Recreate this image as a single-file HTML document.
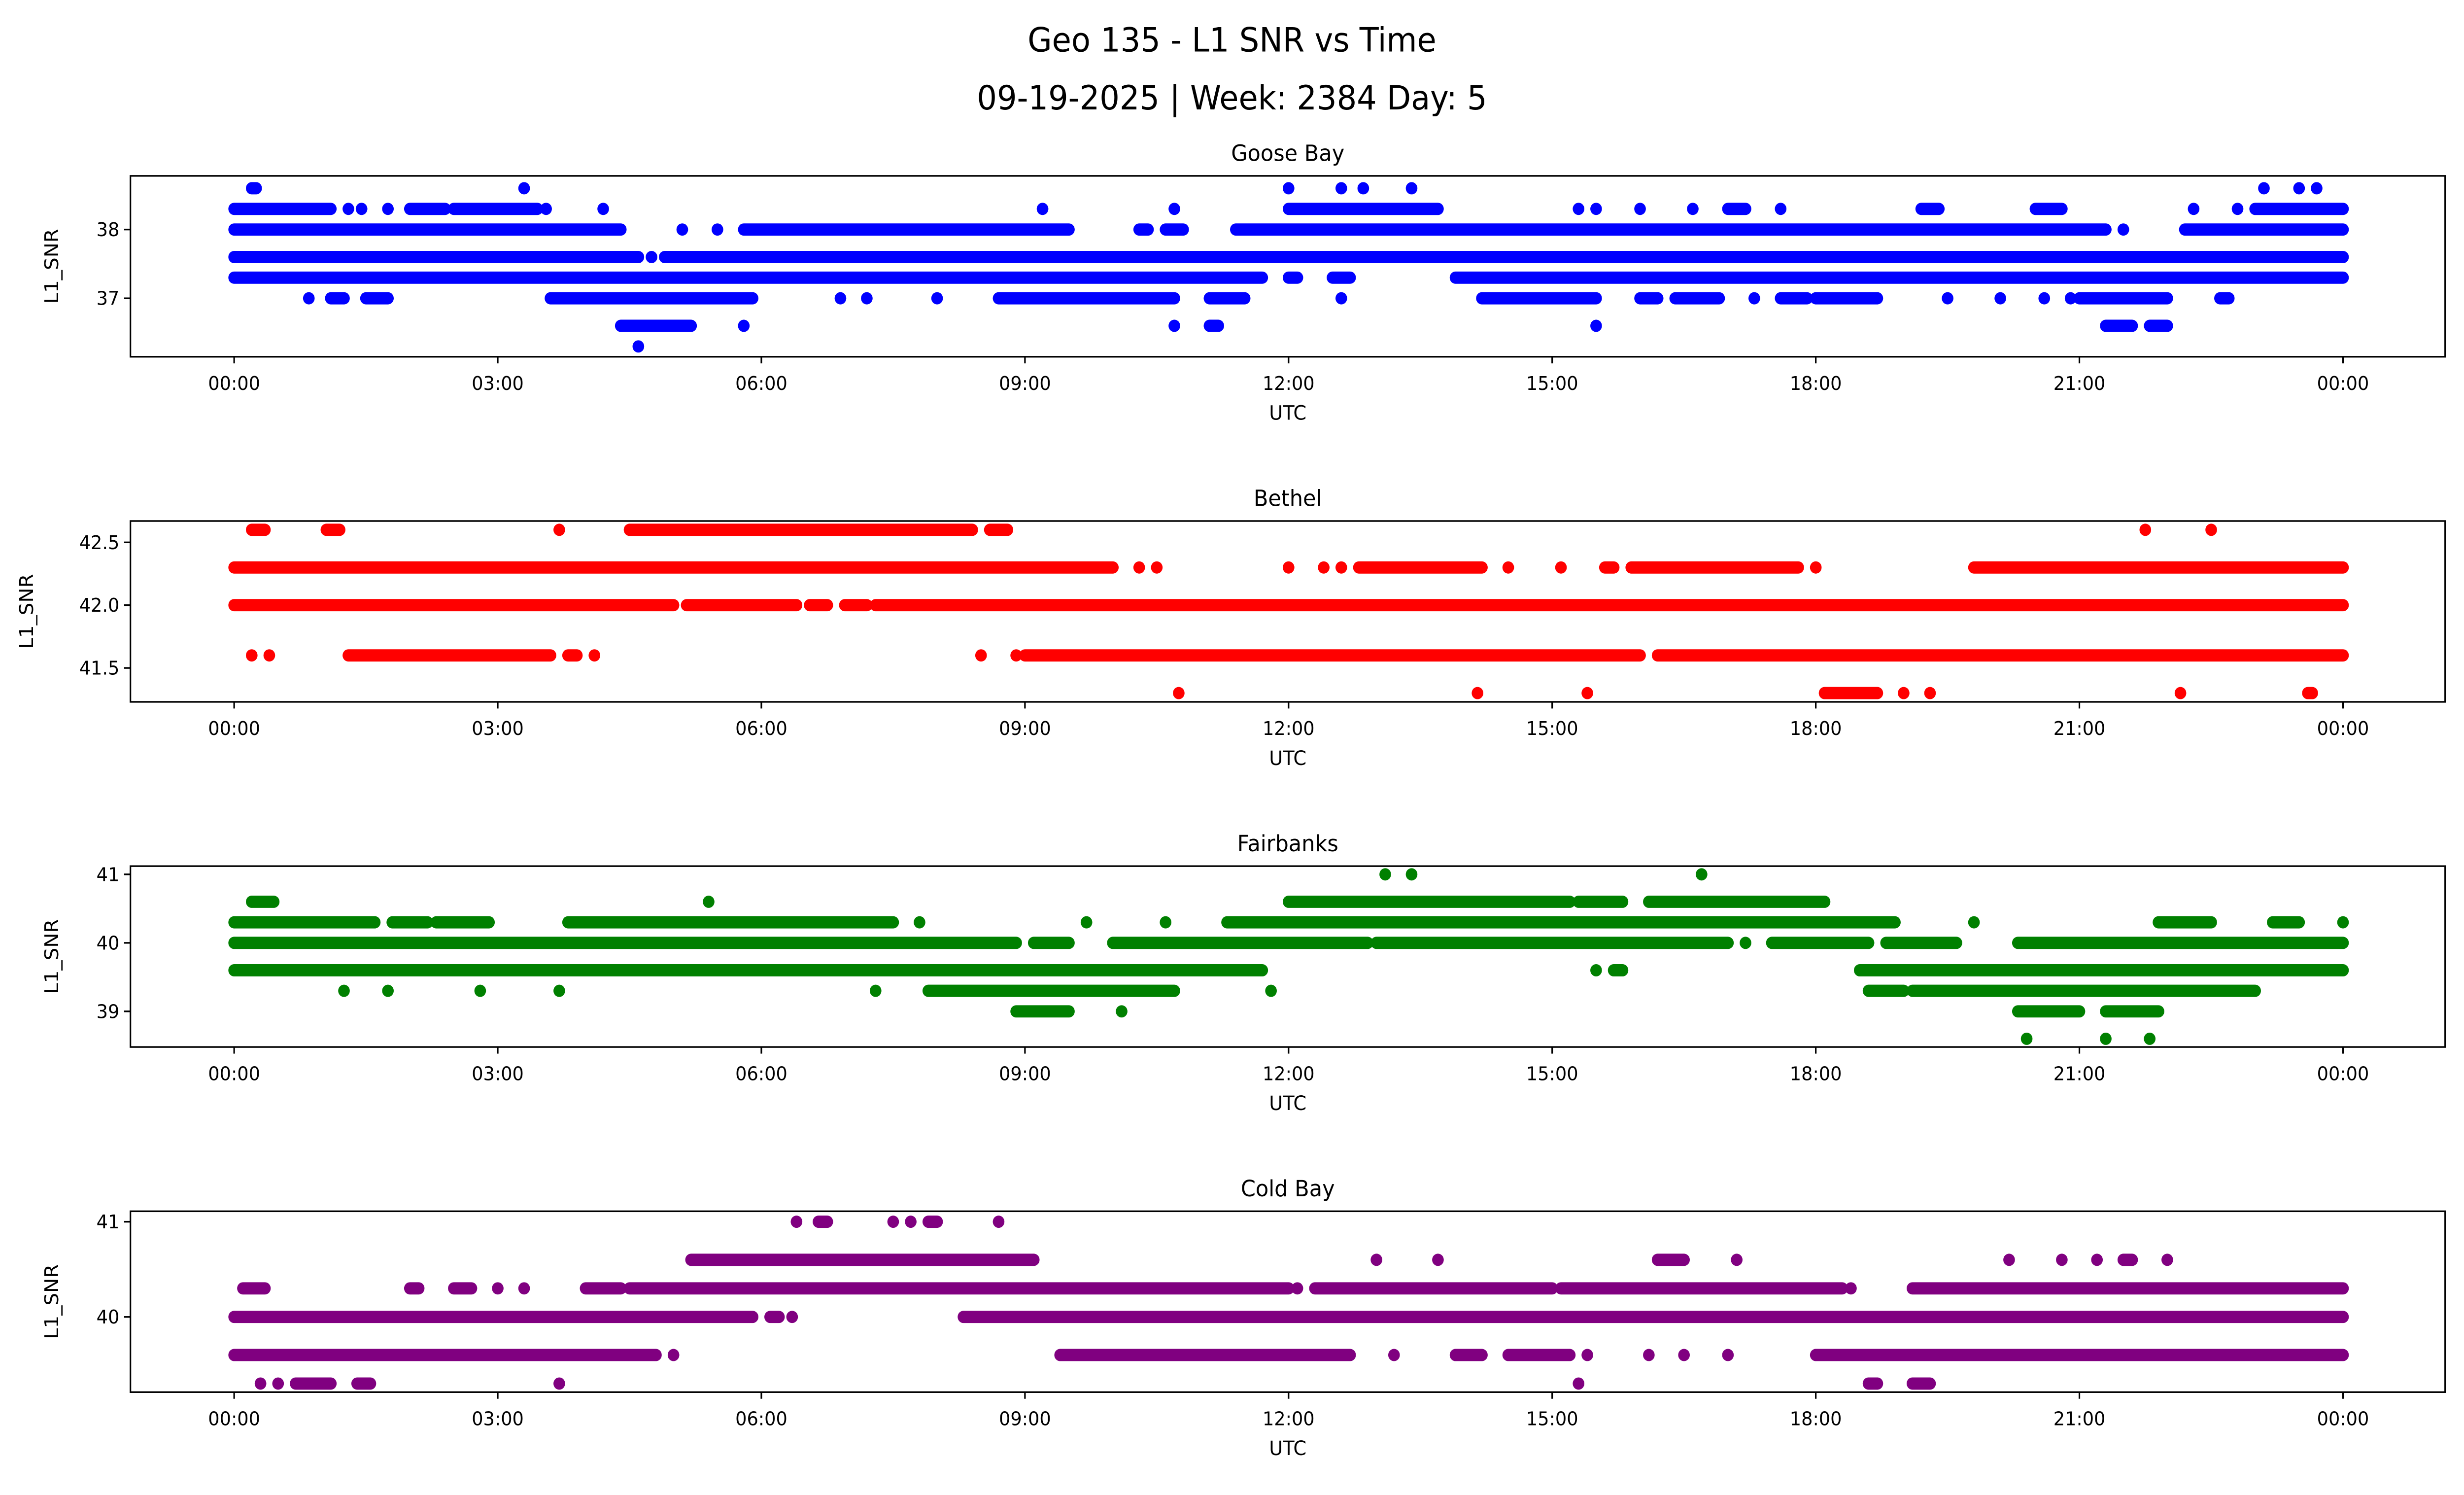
<!DOCTYPE html>
<html><head><meta charset="utf-8"><style>
html,body{margin:0;padding:0;background:#fff;overflow:hidden;width:100%;height:100%}
svg{display:block;position:fixed;left:0;top:0;width:100vw;height:100vh}
text{font-family:"DejaVu Sans","Liberation Sans",sans-serif;fill:#000}
</style></head><body>
<svg id="chart" width="5278" height="3033" viewBox="0 0 1568 901" preserveAspectRatio="none" xmlns="http://www.w3.org/2000/svg">
<text x="784" y="31" font-size="20" text-anchor="middle">Geo 135 - L1 SNR vs Time</text>
<text x="784" y="66" font-size="20" text-anchor="middle">09-19-2025 | Week: 2384 Day: 5</text>
</svg>
<script>
// Run data: [startHour, endHour] for each SNR level (single points have start==end)
const gooseLevels = [38.6, 38.3, 38.0, 37.6, 37.3, 37.0, 36.6, 36.3];
const gooseRuns = [
 [[0.2,0.25],[3.3,3.3],[12.0,12.0],[12.6,12.6],[12.85,12.85],[13.4,13.4],[23.1,23.1],[23.5,23.5],[23.7,23.7]],
 [[0,1.1],[1.3,1.3],[1.45,1.45],[1.75,1.75],[2.0,2.4],[2.5,3.45],[3.55,3.55],[4.2,4.2],[9.2,9.2],[10.7,10.7],[12.0,13.7],[15.3,15.3],[15.5,15.5],[16.0,16.0],[16.6,16.6],[17.0,17.2],[17.6,17.6],[19.2,19.4],[20.5,20.8],[22.3,22.3],[22.8,22.8],[23.0,24]],
 [[0,4.4],[5.1,5.1],[5.5,5.5],[5.8,9.5],[10.3,10.4],[10.6,10.8],[11.4,21.3],[21.5,21.5],[22.2,24]],
 [[0,4.6],[4.75,4.75],[4.9,24]],
 [[0,11.7],[12.0,12.1],[12.5,12.7],[13.9,24]],
 [[0.85,0.85],[1.1,1.25],[1.5,1.75],[3.6,5.9],[6.9,6.9],[7.2,7.2],[8.0,8.0],[8.7,10.7],[11.1,11.5],[12.6,12.6],[14.2,15.5],[16.0,16.2],[16.4,16.9],[17.3,17.3],[17.6,17.9],[18.0,18.7],[19.5,19.5],[20.1,20.1],[20.6,20.6],[20.9,20.9],[21.0,22.0],[22.6,22.7]],
 [[4.4,5.2],[5.8,5.8],[10.7,10.7],[11.1,11.2],[15.5,15.5],[21.3,21.6],[21.8,22.0]],
 [[4.6,4.6]]
];
const bethelLevels = [42.6, 42.3, 42.0, 41.6, 41.3];
const bethelRuns = [
 [[0.2,0.35],[1.05,1.2],[3.7,3.7],[4.5,8.4],[8.6,8.8],[21.75,21.75],[22.5,22.5]],
 [[0,10.0],[10.3,10.3],[10.5,10.5],[12.0,12.0],[12.4,12.4],[12.6,12.6],[12.8,14.2],[14.5,14.5],[15.1,15.1],[15.6,15.7],[15.9,17.8],[18.0,18.0],[19.8,24]],
 [[0,5.0],[5.15,6.4],[6.55,6.75],[6.95,7.2],[7.3,24]],
 [[0.2,0.2],[0.4,0.4],[1.3,3.6],[3.8,3.9],[4.1,4.1],[8.5,8.5],[8.9,8.9],[9.0,16.0],[16.2,24]],
 [[10.75,10.75],[14.15,14.15],[15.4,15.4],[18.1,18.7],[19.0,19.0],[19.3,19.3],[22.15,22.15],[23.6,23.65]]
];
const fairLevels = [41.0, 40.6, 40.3, 40.0, 39.6, 39.3, 39.0, 38.6];
const fairRuns = [
 [[13.1,13.1],[13.4,13.4],[16.7,16.7]],
 [[0.2,0.45],[5.4,5.4],[12.0,15.2],[15.3,15.8],[16.1,18.1]],
 [[0,1.6],[1.8,2.2],[2.3,2.9],[3.8,7.5],[7.8,7.8],[9.7,9.7],[10.6,10.6],[11.3,18.9],[19.8,19.8],[21.9,22.5],[23.2,23.5],[24,24]],
 [[0,8.9],[9.1,9.5],[10.0,12.9],[13.0,17.0],[17.2,17.2],[17.5,18.6],[18.8,19.6],[20.3,24]],
 [[0,11.7],[15.5,15.5],[15.7,15.8],[18.5,24]],
 [[1.25,1.25],[1.75,1.75],[2.8,2.8],[3.7,3.7],[7.3,7.3],[7.9,10.7],[11.8,11.8],[18.6,19.0],[19.1,23.0]],
 [[8.9,9.5],[10.1,10.1],[20.3,21.0],[21.3,21.9]],
 [[20.4,20.4],[21.3,21.3],[21.8,21.8]]
];
const coldLevels = [41.0, 40.6, 40.3, 40.0, 39.6, 39.3];
const coldRuns = [
 [[6.4,6.4],[6.65,6.75],[7.5,7.5],[7.7,7.7],[7.9,8.0],[8.7,8.7]],
 [[5.2,9.1],[13.0,13.0],[13.7,13.7],[16.2,16.5],[17.1,17.1],[20.2,20.2],[20.8,20.8],[21.2,21.2],[21.5,21.6],[22.0,22.0]],
 [[0.1,0.35],[2.0,2.1],[2.5,2.7],[3.0,3.0],[3.3,3.3],[4.0,4.4],[4.5,12.0],[12.1,12.1],[12.3,15.0],[15.1,18.3],[18.4,18.4],[19.1,24]],
 [[0,5.9],[6.1,6.2],[6.35,6.35],[8.3,24]],
 [[0,4.8],[5.0,5.0],[9.4,12.7],[13.2,13.2],[13.9,14.2],[14.5,15.2],[15.4,15.4],[16.1,16.1],[16.5,16.5],[17.0,17.0],[18.0,24]],
 [[0.3,0.3],[0.5,0.5],[0.7,1.1],[1.4,1.55],[3.7,3.7],[15.3,15.3],[18.6,18.7],[19.1,19.3]]
];
const xTickHours = [0, 3, 6, 9, 12, 15, 18, 21, 24];
const xTickLabels = ["00:00","03:00","06:00","09:00","12:00","15:00","18:00","21:00","00:00"];

const NS = "http://www.w3.org/2000/svg";
const svg = document.getElementById("chart");
function el(tag, attrs, parent){
  const e = document.createElementNS(NS, tag);
  for (const k in attrs) e.setAttribute(k, attrs[k]);
  (parent||svg).appendChild(e);
  return e;
}
const panels = [
  {name:"goose-bay", title:"Goose Bay", color:"#0000ff", top:106, yMin:36.15, yMax:38.78, ticks:[37,38], tickLabels:["37","38"], levels:gooseLevels, runs:gooseRuns, ylx:37},
  {name:"bethel", title:"Bethel", color:"#ff0000", top:314, yMin:41.23, yMax:42.67, ticks:[41.5,42.0,42.5], tickLabels:["41.5","42.0","42.5"], levels:bethelLevels, runs:bethelRuns, ylx:21},
  {name:"fairbanks", title:"Fairbanks", color:"#008000", top:522, yMin:38.48, yMax:41.12, ticks:[39,40,41], tickLabels:["39","40","41"], levels:fairLevels, runs:fairRuns, ylx:37},
  {name:"cold-bay", title:"Cold Bay", color:"#800080", top:730, yMin:39.21, yMax:41.11, ticks:[40,41], tickLabels:["40","41"], levels:coldLevels, runs:coldRuns, ylx:37}
];
const L = 83, R = 1556, H = 109;
const xOf = h => 149 + h * (1342/24);
panels.forEach(p => {
  const g = el("g", {});
  
  
  const yOf = v => p.top + H - (v - p.yMin) / (p.yMax - p.yMin) * H;
  const t = el("text", {x:(L+R)/2, y:p.top-9, "font-size":13.5, "text-anchor":"middle"}, g);
  t.textContent = p.title;
  
  
  const sg = el("g", {}, g);
  
  
  p.levels.forEach((lv, i) => {
    p.runs[i].forEach(r => {
      const ln = el("line", {x1:xOf(r[0]), x2:xOf(r[1])+0.01, y1:yOf(lv), y2:yOf(lv), stroke:p.color, "stroke-width":7.4, "stroke-linecap":"round"}, sg);
      
      
    });
  });
  const fr = el("rect", {x:L, y:p.top, width:R-L, height:H, fill:"none", stroke:"#000", "stroke-width":1}, g);
  
  
  p.ticks.forEach((tv, i) => {
    const y = yOf(tv);
    el("line", {x1:L-4, x2:L, y1:y, y2:y, stroke:"#000", "stroke-width":1}, g);
    const tl = el("text", {x:L-7, y:y+4, "font-size":11.5, "text-anchor":"end"}, g);
    tl.textContent = p.tickLabels[i];
    
    
  });
  const yl = el("text", {x:p.ylx, y:p.top+H/2, "font-size":12, "text-anchor":"middle", transform:`rotate(-90 ${p.ylx} ${p.top+H/2})`}, g);
  yl.textContent = "L1_SNR";
  
  
  xTickHours.forEach((h, i) => {
    const x = xOf(h);
    el("line", {x1:x, x2:x, y1:p.top+H, y2:p.top+H+4, stroke:"#000", "stroke-width":1}, g);
    const tl = el("text", {x:x, y:p.top+H+20, "font-size":11.5, "text-anchor":"middle"}, g);
    tl.textContent = xTickLabels[i];
    
    
  });
  const xl = el("text", {x:(L+R)/2, y:p.top+H+38, "font-size":12, "text-anchor":"middle"}, g);
  xl.textContent = "UTC";
  
  
});
</script>
</body></html>
